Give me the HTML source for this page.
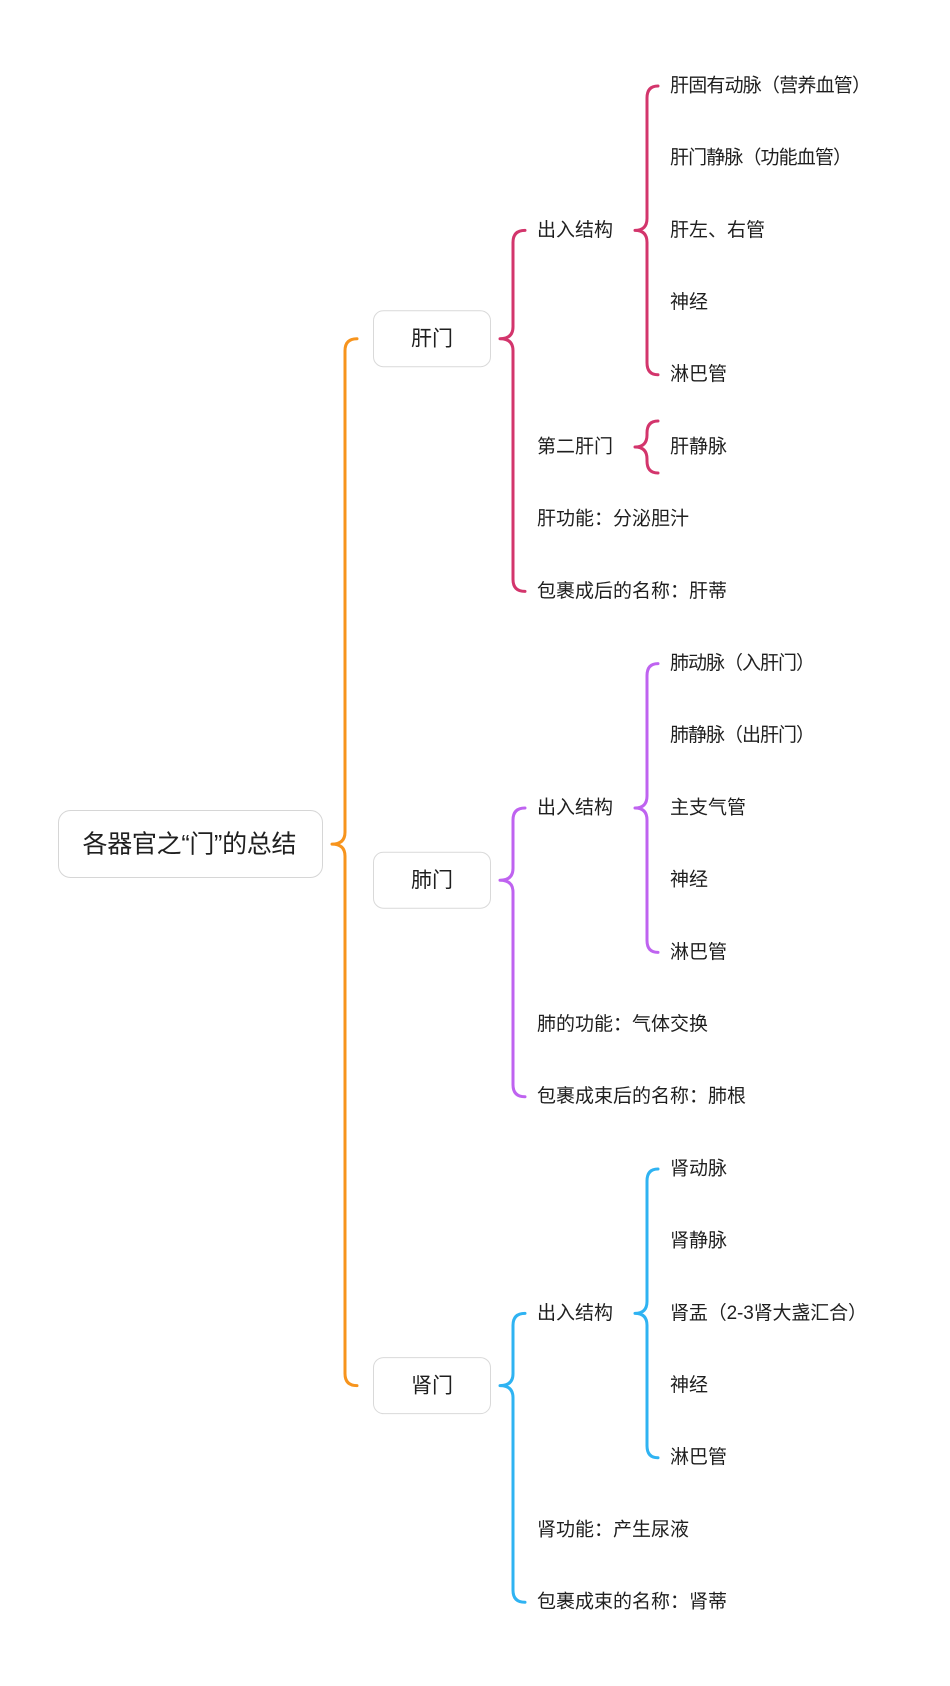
<!DOCTYPE html>
<html>
<head>
<meta charset="utf-8">
<style>
  html, body { margin: 0; padding: 0; background: #ffffff; }
  svg { display: block; }
  text { font-family: "Liberation Sans", "Noto Sans CJK SC", sans-serif; fill: #1f1f1f; text-spacing-trim: space-all; font-feature-settings: "chws" 0, "halt" 0; }
</style>
</head>
<body>
<svg width="950" height="1686" viewBox="0 0 950 1686" xmlns="http://www.w3.org/2000/svg">
  <rect x="0" y="0" width="950" height="1686" fill="#ffffff"/>

  <!-- Brackets -->
  <g fill="none" stroke-width="3" stroke-linecap="round" stroke-linejoin="round">
    <!-- Orange root bracket -->
    <path stroke="#F7941D" d="M357 338.7 Q345 338.7 345 350.7 L345 832.1 Q345 844.1 332 844.1 Q345 844.1 345 856.1 L345 1373.6 Q345 1385.6 357 1385.6"/>

    <!-- 肝门 magenta -->
    <path stroke="#D3356C" d="M525 230.4 Q513 230.4 513 242.4 L513 326.7 Q513 338.7 500 338.7 Q513 338.7 513 350.7 L513 579.4 Q513 591.4 525 591.4"/>
    <path stroke="#D3356C" d="M658 86 Q647 86 647 98 L647 218.4 Q647 230.4 635 230.4 Q647 230.4 647 242.4 L647 362.8 Q647 374.8 658 374.8"/>
    <path stroke="#D3356C" d="M658 421 Q647 421 647 433 L647 435 Q647 447 635 447 Q647 447 647 459 L647 461 Q647 473 658 473"/>

    <!-- 肺门 purple -->
    <path stroke="#BF63F0" d="M525 808 Q513 808 513 820 L513 868.2 Q513 880.2 500 880.2 Q513 880.2 513 892.2 L513 1084.8 Q513 1096.8 525 1096.8"/>
    <path stroke="#BF63F0" d="M658 663.6 Q647 663.6 647 675.6 L647 796 Q647 808 635 808 Q647 808 647 820 L647 940.4 Q647 952.4 658 952.4"/>

    <!-- 肾门 blue -->
    <path stroke="#2FB3F2" d="M525 1313.4 Q513 1313.4 513 1325.4 L513 1373.6 Q513 1385.6 500 1385.6 Q513 1385.6 513 1397.6 L513 1590.2 Q513 1602.2 525 1602.2"/>
    <path stroke="#2FB3F2" d="M658 1169 Q647 1169 647 1181 L647 1301.4 Q647 1313.4 635 1313.4 Q647 1313.4 647 1325.4 L647 1445.8 Q647 1457.8 658 1457.8"/>
  </g>

  <!-- Root box -->
  <rect x="58.5" y="810.5" width="264" height="67" rx="12" ry="12" fill="#ffffff" stroke="#d6d6d6" stroke-width="1"/>
  <text x="189.5" y="852.4" font-size="25" text-anchor="middle" textLength="214" lengthAdjust="spacing">各器官之“门”的总结</text>

  <!-- Level 1 boxes -->
  <rect x="373.5" y="310.7" width="117" height="56" rx="10" ry="10" fill="#ffffff" stroke="#d9d9d9" stroke-width="1"/>
  <text x="432" y="345.6" font-size="21" text-anchor="middle">肝门</text>

  <rect x="373.5" y="852.2" width="117" height="56" rx="10" ry="10" fill="#ffffff" stroke="#d9d9d9" stroke-width="1"/>
  <text x="432" y="887.1" font-size="21" text-anchor="middle">肺门</text>

  <rect x="373.5" y="1357.6" width="117" height="56" rx="10" ry="10" fill="#ffffff" stroke="#d9d9d9" stroke-width="1"/>
  <text x="432" y="1392.5" font-size="21" text-anchor="middle">肾门</text>

  <!-- Level 2 & leaves text -->
  <g font-size="19" lengthAdjust="spacing">
    <!-- 肝门 -->
    <text x="537" y="235.8" textLength="76">出入结构</text>
    <text x="670" y="91.4" textLength="201">肝固有动脉（营养血管）</text>
    <text x="670" y="163.6" textLength="182">肝门静脉（功能血管）</text>
    <text x="670" y="235.8" textLength="95">肝左、右管</text>
    <text x="670" y="308" textLength="38">神经</text>
    <text x="670" y="380.2" textLength="57">淋巴管</text>
    <text x="537" y="452.4" textLength="76">第二肝门</text>
    <text x="670" y="452.4" textLength="57">肝静脉</text>
    <text x="537" y="524.6" textLength="152">肝功能：分泌胆汁</text>
    <text x="537" y="596.8" textLength="190">包裹成后的名称：肝蒂</text>

    <!-- 肺门 -->
    <text x="537" y="813.4" textLength="76">出入结构</text>
    <text x="670" y="669" textLength="145">肺动脉（入肝门）</text>
    <text x="670" y="741.2" textLength="145">肺静脉（出肝门）</text>
    <text x="670" y="813.4" textLength="76">主支气管</text>
    <text x="670" y="885.6" textLength="38">神经</text>
    <text x="670" y="957.8" textLength="57">淋巴管</text>
    <text x="537" y="1030" textLength="171">肺的功能：气体交换</text>
    <text x="537" y="1102.2" textLength="209">包裹成束后的名称：肺根</text>

    <!-- 肾门 -->
    <text x="537" y="1318.8" textLength="76">出入结构</text>
    <text x="670" y="1174.4" textLength="57">肾动脉</text>
    <text x="670" y="1246.6" textLength="57">肾静脉</text>
    <text x="670" y="1318.8" textLength="197">肾盂（2-3肾大盏汇合）</text>
    <text x="670" y="1391" textLength="38">神经</text>
    <text x="670" y="1463.2" textLength="57">淋巴管</text>
    <text x="537" y="1535.4" textLength="152">肾功能：产生尿液</text>
    <text x="537" y="1607.6" textLength="190">包裹成束的名称：肾蒂</text>
  </g>
</svg>
</body>
</html>
